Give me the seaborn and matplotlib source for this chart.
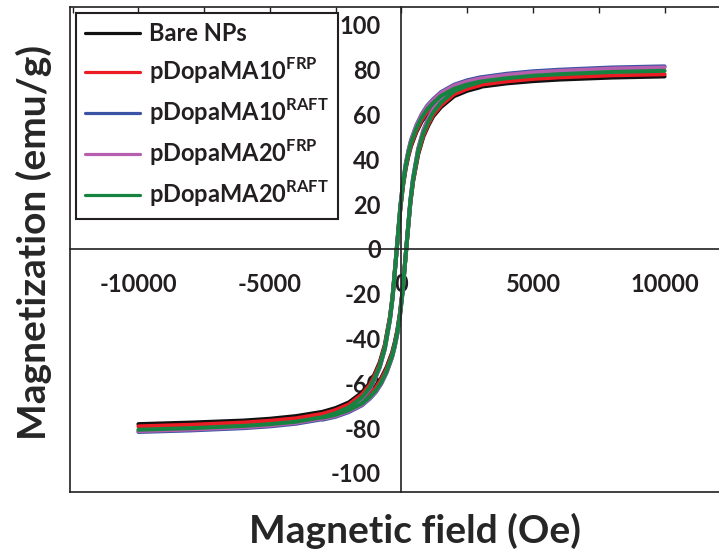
import matplotlib
matplotlib.use("Agg")
import matplotlib.pyplot as plt
import pandas as pd
import seaborn as sns
from matplotlib.lines import Line2D
from matplotlib.ticker import MultipleLocator

# field sweep (Oe): full descending branch, central part of the ascending branch
field_down = [10000, 8000, 6000, 5000, 4000, 3000, 2500, 2000, 1500, 1200, 980,
              770, 565, 360, 260, 160, 60, -40, -140, -240, -340, -440, -635,
              -830, -1020, -1200, -1500, -2000, -2500, -3000, -4000, -5000,
              -6000, -8000, -10000]
field_up = [-3000, -2500, -2000, -1500, -1200, -980, -770, -565, -360, -260,
            -160, -60, 40, 140, 240, 340, 440, 635, 830, 1020, 1200, 1500,
            2000, 2500, 3000]

# magnetization (emu/g)
bare_down = [77.0, 76.5, 75.6, 74.9, 73.9, 72.4, 71.2, 69.3, 66.2, 63.1, 60.5,
             56.9, 52.2, 45.8, 41.4, 35.9, 28.4, 18.4, 5.3, -8.0, -21.1, -30.4,
             -42.9, -50.7, -55.8, -59.8, -64.1, -68.5, -71.0, -72.7, -74.6,
             -75.8, -76.6, -77.5, -78.2]
bare_up = [-72.9, -71.7, -69.7, -66.8, -63.9, -61.2, -57.6, -52.8, -46.4, -41.9,
           -36.4, -28.7, -18.7, -5.4, 7.9, 20.8, 30.1, 42.3, 50.1, 55.1, 59.1,
           63.3, 68.2, 70.6, 72.2]

frp10_down = [78.0, 77.5, 76.6, 75.9, 74.8, 73.3, 72.1, 70.1, 67.0, 63.9, 61.2,
              57.6, 52.8, 46.4, 41.9, 36.4, 28.7, 18.7, 5.4, -8.1, -21.3, -30.8,
              -43.4, -51.4, -56.5, -60.6, -64.9, -69.4, -71.9, -73.6, -75.6,
              -76.7, -77.5, -78.5, -79.2]
frp10_up = [-73.8, -72.6, -70.5, -67.6, -64.7, -62.0, -58.3, -53.5, -47.0, -42.4,
            -36.8, -29.1, -18.9, -5.4, 8.0, 21.1, 30.4, 42.9, 50.7, 55.8, 59.8,
            64.1, 69.1, 71.5, 73.1]

raft10_down = [81.5, 81.0, 80.0, 79.3, 78.2, 76.6, 75.3, 73.3, 70.0, 66.8, 64.0,
               60.2, 55.2, 48.5, 43.8, 38.0, 30.0, 19.5, 5.6, -8.4, -22.0, -31.8,
               -44.8, -53.0, -58.3, -62.5, -67.0, -71.6, -74.2, -76.0, -78.0,
               -79.2, -80.0, -81.0, -81.7]
raft10_up = [-76.2, -74.9, -72.8, -69.8, -66.8, -64.0, -60.2, -55.2, -48.5, -43.8,
             -38.0, -30.0, -19.5, -5.6, 8.4, 22.0, 31.8, 44.8, 53.0, 58.3, 62.5,
             67.0, 72.2, 74.7, 76.4]

frp20_down = [81.0, 80.5, 79.5, 78.8, 77.7, 76.1, 74.8, 72.9, 69.6, 66.4, 63.6,
              59.8, 54.9, 48.2, 43.5, 37.8, 29.8, 19.4, 5.6, -8.4, -21.9, -31.6,
              -44.6, -52.7, -58.0, -62.2, -66.7, -71.2, -73.8, -75.6, -77.6,
              -78.8, -79.6, -80.6, -81.3]
frp20_up = [-75.8, -74.5, -72.4, -69.5, -66.5, -63.7, -59.9, -54.9, -48.3, -43.6,
            -37.8, -29.9, -19.4, -5.6, 8.3, 21.9, 31.6, 44.5, 52.7, 58.0, 62.1,
            66.6, 71.8, 74.3, 75.9]

raft20_down = [79.5, 79.0, 78.0, 77.3, 76.2, 74.7, 73.4, 71.5, 68.3, 65.1, 62.4,
               58.7, 53.8, 47.3, 42.7, 37.1, 29.3, 19.0, 5.5, -8.3, -21.7, -31.4,
               -44.3, -52.4, -57.6, -61.8, -66.2, -70.7, -73.3, -75.1, -77.1,
               -78.2, -79.0, -80.0, -80.7]
raft20_up = [-75.3, -74.0, -71.9, -69.0, -66.0, -63.2, -59.5, -54.5, -47.9, -43.3,
             -37.5, -29.6, -19.3, -5.5, 8.2, 21.5, 31.0, 43.7, 51.7, 56.8, 60.9,
             65.3, 70.4, 72.8, 74.5]

samples = ["Bare NPs", "pDopaMA10$^{\\mathbf{FRP}}$", "pDopaMA10$^{\\mathbf{RAFT}}$",
           "pDopaMA20$^{\\mathbf{FRP}}$", "pDopaMA20$^{\\mathbf{RAFT}}$"]
colors = ["#111111", "#ec1c24", "#3a53a4", "#b55fae", "#168340"]
loops = [(bare_down, bare_up), (frp10_down, frp10_up), (raft10_down, raft10_up),
         (frp20_down, frp20_up), (raft20_down, raft20_up)]

rows = []
for name, (down, up) in zip(samples, loops):
    for h, m in zip(field_down, down):
        rows.append((name, "down", h, m))
    for h, m in zip(field_up, up):
        rows.append((name, "up", h, m))
df = pd.DataFrame(rows, columns=["sample", "branch", "field", "moment"])

sns.set_style("white")
plt.rcParams["font.family"] = ["Lato", "DejaVu Sans"]
plt.rcParams["font.weight"] = "bold"
plt.rcParams["axes.unicode_minus"] = False
plt.rcParams["mathtext.fontset"] = "custom"
plt.rcParams["mathtext.rm"] = "Lato:bold"
plt.rcParams["mathtext.bf"] = "Lato:bold"
plt.rcParams["text.color"] = "#231f20"

ink = "#231f20"
xlim = (-12600, 12600)
ylim = (-108.5, 108)
pos = [70 / 719, 60 / 552, 663 / 719, 485 / 552]

fig = plt.figure(figsize=(7.19, 5.52), dpi=100)

# outer frame with inward ticks along the top
frame = fig.add_axes(pos)
frame.set_xlim(xlim)
frame.set_ylim(ylim)
frame.xaxis.set_major_locator(MultipleLocator(5000))
frame.xaxis.set_minor_locator(MultipleLocator(2500))
frame.tick_params(axis="x", which="both", top=True, bottom=False, direction="in",
                  length=4, width=1, labelbottom=False, labeltop=False, color=ink)
frame.tick_params(axis="y", left=False, labelleft=False)
for s in frame.spines.values():
    s.set_linewidth(1.2)
    s.set_color(ink)

ax = fig.add_axes(pos)
ax.patch.set_alpha(0)
sns.lineplot(data=df, x="field", y="moment", hue="sample", units="branch",
             estimator=None, sort=False, palette=dict(zip(samples, colors)),
             hue_order=samples, linewidth=2.9, legend=False, ax=ax)
ax.set_xlim(xlim)
ax.set_ylim(ylim)

ax.spines["left"].set_position(("data", 0))
ax.spines["bottom"].set_position(("data", 0))
ax.spines["top"].set_visible(False)
ax.spines["right"].set_visible(False)
for s in ("left", "bottom"):
    ax.spines[s].set_linewidth(1.2)
    ax.spines[s].set_color(ink)

ax.set_xticks([-10000, -5000, 0, 5000, 10000])
ax.xaxis.set_minor_locator(MultipleLocator(2500))
ax.set_yticks(range(-100, 101, 20))
ax.yaxis.set_minor_locator(MultipleLocator(10))
ax.tick_params(which="major", direction="out", length=9, width=1.2,
               labelsize=17, pad=6, color=ink, labelcolor=ink)
ax.tick_params(which="minor", direction="out", length=5, width=1.2, color=ink)
ax.tick_params(axis="x", which="major", pad=8)

ax.set_xlabel("Magnetic field (Oe)", fontsize=28, fontweight="bold", va="center")
ax.set_ylabel("Magnetization (emu/g)", fontsize=28, fontweight="bold", va="center")
ax.xaxis.set_label_coords(0.52, -0.08)
ax.yaxis.set_label_coords(-0.055, 0.514)

handles = [Line2D([], [], color=c, lw=2.3) for c in colors]
leg = ax.legend(handles, samples, loc="upper left", bbox_to_anchor=(0, 1),
                borderaxespad=0.25, frameon=True, fancybox=False,
                prop={"family": "Lato", "weight": "bold", "size": 17},
                handlelength=2.3, handletextpad=0.4, labelspacing=0.45,
                borderpad=0.4)
leg.get_frame().set_edgecolor(ink)
leg.get_frame().set_linewidth(1.5)
leg.get_frame().set_alpha(1)
for t in leg.get_texts():
    t.set_color(ink)

fig.canvas.draw()
for lab in ax.get_xticklabels() + ax.get_yticklabels():
    lab.set_fontweight("bold")

fig.savefig("out.png", dpi=100)
